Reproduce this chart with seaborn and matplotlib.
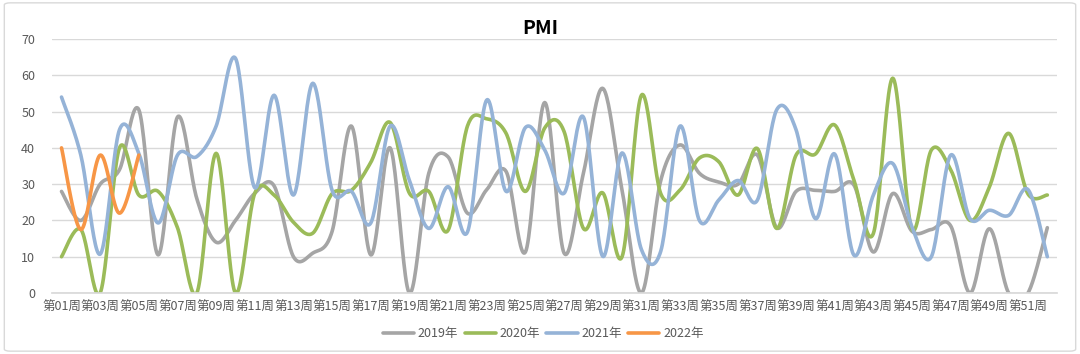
import numpy as np
import pandas as pd
import seaborn as sns
import matplotlib.pyplot as plt
from matplotlib.patches import FancyBboxPatch

# weekly values
weeks = [f"第{i:02d}周" for i in range(1, 53)]
y2019 = [28, 20, 30, 34, 50.5, 10.5, 48.5, 26, 14, 20, 27.5, 29.5, 10, 11, 17, 46,
         10.5, 40, 0, 33, 37.5, 22, 28.5, 33.5, 11.3, 52.5, 11, 33, 56.4, 28.3, 0, 31,
         40.8, 33, 30.6, 30, 38, 18, 28, 28.3, 28, 29.7, 11.3, 27.4, 17, 17.5, 18.5, 0,
         17.7, 0, 0, 18]
y2020 = [10, 17.5, 0, 40, 27, 28, 18, 0, 38.5, 0, 27.5, 27, 19.5, 16.5, 27.4, 28.3,
         36, 47, 27.5, 28, 17.3, 46, 48, 44, 28, 45.5, 44.5, 17.8, 27.6, 10, 54.5, 27.4,
         28.4, 37.2, 36.2, 27, 39.8, 17.8, 38, 38.3, 46.3, 31, 16.4, 59.2, 17.5, 39.4,
         34, 20, 29.2, 44, 27.3, 27]
y2021 = [54, 38, 10.7, 45, 38.5, 19.3, 38, 37.6, 46, 64.7, 29, 54.5, 27, 57.8, 28.3,
         28, 19.3, 46, 31, 17.8, 29.3, 16.8, 53.2, 28, 45.6, 39.4, 27.5, 48.5, 10.1, 38.6,
         12, 11.5, 46, 20, 25.6, 31, 25.6, 50.5, 45, 20.5, 38.3, 10.4, 27, 35.7, 18.2, 10,
         38, 20.5, 22.8, 21.4, 28.5, 10]
y2022 = [40, 17.5, 38, 22, 38]

years = ["2019年", "2020年", "2021年", "2022年"]
colors = ["#A5A5A5", "#9BBB59", "#95B3D7", "#F79646"]


def smooth(vals, n=24):
    # excel-like smoothed line (catmull-rom as cubic bezier)
    p = np.array(vals, dtype=float)
    x = np.arange(len(p), dtype=float)
    xs, ys = [], []
    for i in range(len(p) - 1):
        i0, i3 = max(i - 1, 0), min(i + 2, len(p) - 1)
        c1 = p[i] + (p[i + 1] - p[i0]) / 6
        c2 = p[i + 1] - (p[i3] - p[i]) / 6
        cx1 = x[i] + (x[i + 1] - x[i0]) / 6
        cx2 = x[i + 1] - (x[i3] - x[i]) / 6
        t = np.linspace(0, 1, n, endpoint=(i == len(p) - 2))
        a, b, c, d = (1 - t) ** 3, 3 * (1 - t) ** 2 * t, 3 * (1 - t) * t ** 2, t ** 3
        xs.append(a * x[i] + b * cx1 + c * cx2 + d * x[i + 1])
        ys.append(a * p[i] + b * c1 + c * c2 + d * p[i + 1])
    return np.concatenate(xs), np.concatenate(ys)


frames = []
for yr, vals in zip(years, [y2019, y2020, y2021, y2022]):
    sx, sy = smooth(vals)
    frames.append(pd.DataFrame({"x": sx, "y": sy, "year": yr}))
df = pd.concat(frames, ignore_index=True)

sns.set_theme(style="white")
plt.rcParams["font.family"] = ["Noto Sans CJK SC", "DejaVu Sans"]

fig = plt.figure(figsize=(10.8, 3.54), dpi=100)
ax = fig.add_axes([0.048, 0.1723, 0.9307, 0.7175])

sns.lineplot(data=df, x="x", y="y", hue="year", palette=colors, sort=False,
             estimator=None, linewidth=2.6, legend=False, ax=ax)

ax.set_xlim(-0.5, 51.5)
ax.set_ylim(0, 70)
ax.set_yticks(range(0, 71, 10))
ax.set_xticks(range(0, 52, 2))
ax.set_xticklabels(weeks[::2])
ax.set_xticks(np.arange(-0.5, 52, 1), minor=True)
ax.tick_params(axis="x", which="major", length=0, pad=6, labelsize=9, colors="#595959")
ax.tick_params(axis="x", which="minor", length=4, width=0.8, color="#D9D9D9", direction="out")
ax.tick_params(axis="y", length=0, pad=12, labelsize=9, colors="#595959")
ax.grid(axis="y", color="#D9D9D9", linewidth=1)
ax.set_axisbelow(True)
for s in ["top", "right", "left"]:
    ax.spines[s].set_visible(False)
ax.spines["bottom"].set_color("#D9D9D9")
ax.set_xlabel("")
ax.set_ylabel("")

fig.text(0.5, 0.92, "PMI", ha="center", va="center", fontsize=14, fontweight="bold",
         color="#000000")

handles = ax.get_lines()[:4]
fig.legend(handles, years, loc="center", bbox_to_anchor=(0.503, 0.058), ncol=4,
           frameon=False, fontsize=9, handlelength=2.5, handletextpad=0.3,
           columnspacing=0.5, labelcolor="#595959")

border = FancyBboxPatch((0.004, 0.008), 0.992, 0.984, boxstyle="round,pad=0,rounding_size=0.006",
                        transform=fig.transFigure, fill=False, edgecolor="#D9D9D9", linewidth=1)
fig.patches.append(border)

fig.savefig("out.png", dpi=100)
